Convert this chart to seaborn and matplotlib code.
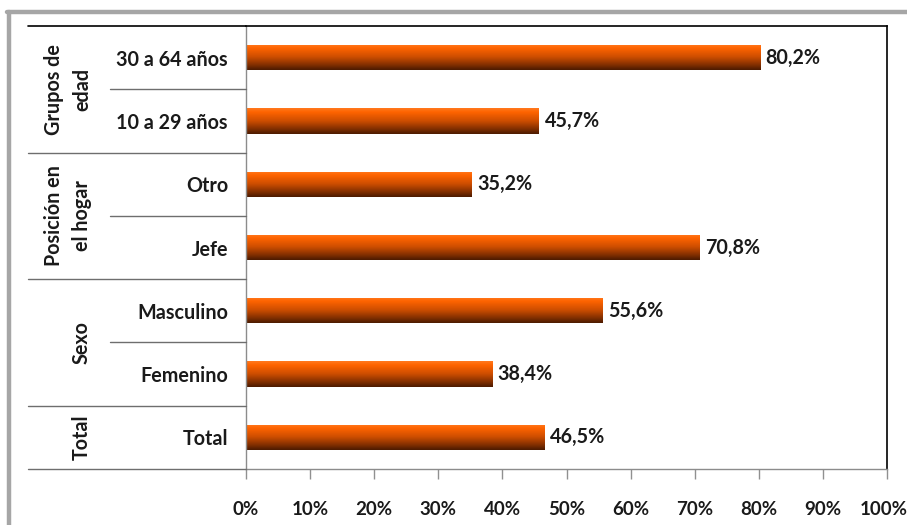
import numpy as np
import pandas as pd
import matplotlib
matplotlib.use("Agg")
import matplotlib.pyplot as plt
import matplotlib.transforms as mtransforms
from matplotlib.lines import Line2D
from matplotlib.colors import LinearSegmentedColormap
import seaborn as sns

# Categories (top to bottom) and their percentage values
categories = ["30 a 64 años", "10 a 29 años", "Otro", "Jefe",
              "Masculino", "Femenino", "Total"]
values = [80.2, 45.7, 35.2, 70.8, 55.6, 38.4, 46.5]

# Group labels and the number of categories in each group
groups = ["Grupos de\nedad", "Posición en\nel hogar", "Sexo", "Total"]
group_sizes = [2, 2, 2, 1]

x_ticks = [0, 10, 20, 30, 40, 50, 60, 70, 80, 90, 100]

sns.set_theme(style="white")
plt.rcParams["font.family"] = ["Lato", "DejaVu Sans"]
plt.rcParams["font.weight"] = "bold"

FS = 14.2
W, H = 907, 525
fig = plt.figure(figsize=(W / 100, H / 100), dpi=100)
fig.patch.set_facecolor("white")

def fx(px):
    return px / W

def fy(py):
    return 1 - py / H

ax = fig.add_axes([fx(246), fy(469), fx(887) - fx(246), fy(26) - fy(469)])

df = pd.DataFrame({"cat": categories, "val": [v / 100 for v in values]})
sns.barplot(data=df, y="cat", x="val", orient="h", ax=ax,
            color="#d85a00", width=0.4, saturation=1)

ax.set_xlim(0, 1)
ax.set_ylim(len(categories) - 0.5, -0.5)
ax.set_xlabel("")
ax.set_ylabel("")

# Vertical gradient fill for each bar
grad_cmap = LinearSegmentedColormap.from_list(
    "bar_grad",
    [(0.0, "#ff7a20"), (0.15, "#ff6400"), (0.5, "#cc4d00"),
     (0.82, "#7d2d00"), (1.0, "#4a1a00")])
grad = np.linspace(0, 1, 256).reshape(-1, 1)
for patch in ax.patches:
    x0, y0 = patch.get_x(), patch.get_y()
    w, h = patch.get_width(), patch.get_height()
    patch.set_facecolor("none")
    patch.set_edgecolor("none")
    im = ax.imshow(grad, cmap=grad_cmap, aspect="auto",
                   extent=(x0, x0 + w, y0 + h, y0), origin="upper",
                   interpolation="bicubic", zorder=2)
    im.set_clip_path(patch)
ax.set_ylim(len(categories) - 0.5, -0.5)
ax.set_xlim(0, 1)

# Value labels next to bars
for i, v in enumerate(values):
    ax.annotate(f"{v:.1f}%".replace(".", ","), xy=(v / 100, i),
                xytext=(4, 0), textcoords="offset points",
                ha="left", va="center", fontsize=FS,
                fontweight="bold", color="#1a1a1a")

# Axis ticks and labels
ax.set_xticks([t / 100 for t in x_ticks])
ax.set_xticklabels([f"{t}%" for t in x_ticks], fontsize=13.5,
                   fontweight="bold", color="#1a1a1a")
ax.tick_params(axis="x", bottom=True, length=7, width=1, color="#909090",
               direction="out", pad=16)
# keep the last tick label inside the figure edge
last = ax.get_xticklabels()[-1]
last.set_transform(last.get_transform() +
                   mtransforms.ScaledTranslation(-3 / 100, 0,
                                                 fig.dpi_scale_trans))
ax.set_yticks(range(len(categories)))
ax.set_yticklabels(categories, fontsize=FS, fontweight="bold",
                   color="#1a1a1a")
ax.tick_params(axis="y", left=False, length=0, pad=13)

for side in ["top", "right"]:
    ax.spines[side].set_color("black")
    ax.spines[side].set_linewidth(1.2)
for side in ["left", "bottom"]:
    ax.spines[side].set_color("#8c8c8c")
    ax.spines[side].set_linewidth(1.0)

# Separator lines in the label area (x in figure px, y in data units)
blend = mtransforms.blended_transform_factory(fig.transFigure, ax.transData)
bounds = np.cumsum([0] + group_sizes) - 0.5
fig.add_artist(Line2D([fx(28), fx(246)], [-0.5, -0.5], transform=blend,
                      color="black", lw=1.2))
for b in bounds[1:]:
    fig.add_artist(Line2D([fx(28), fx(246)], [b, b], transform=blend,
                          color="#6e6e6e", lw=1.0))
start = 0
for size in group_sizes:
    for k in range(1, size):
        b = start + k - 0.5
        fig.add_artist(Line2D([fx(110), fx(246)], [b, b], transform=blend,
                              color="#6e6e6e", lw=1.0))
    start += size

# Rotated group labels
start = 0
for name, size in zip(groups, group_sizes):
    center = start + (size - 1) / 2
    fig.text(fx(92), center, name, transform=blend, rotation=90,
             rotation_mode="anchor", ha="center", va="bottom",
             fontsize=FS, fontweight="bold", color="#1a1a1a",
             linespacing=1.5)
    start += size

# Outer grey frame
fig.add_artist(Line2D([fx(9), fx(9)], [fy(12), fy(525)],
                      transform=fig.transFigure, color="#a6a6a6", lw=3.2))
fig.add_artist(Line2D([fx(7), fx(907)], [fy(12), fy(12)],
                      transform=fig.transFigure, color="#a6a6a6", lw=3.2))

fig.savefig("out.png", dpi=100, facecolor="white")
